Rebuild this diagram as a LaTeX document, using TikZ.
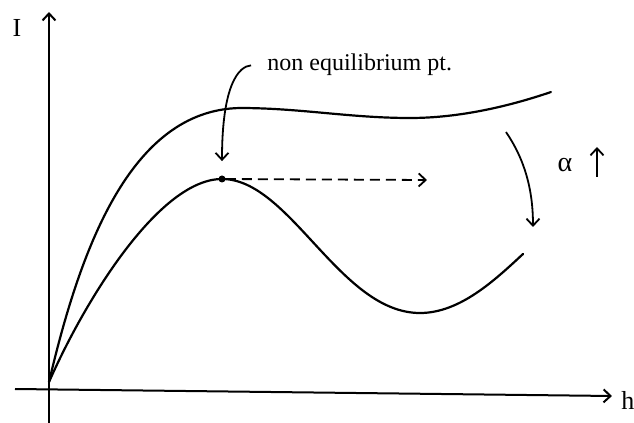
\documentclass[tikz,border=0pt]{standalone}
\usepackage{fontspec}
\setmainfont{Liberation Serif}
\usetikzlibrary{arrows.meta, positioning}

\begin{document}
\begin{tikzpicture}[
        x=0.5pt, y=-0.5pt,
        curve/.style={
            line width=1.1pt,
            line cap=round
        },
        axis/.style={
            line width=1pt,
            -{Straight Barb[length=3.5pt,width=6.5pt]}
        },
        arrow/.style={
            line width=0.9pt,
            -{Straight Barb[length=3.5pt,width=6.5pt]}
        },
        lbl/.style={
            inner sep=0pt,
            font=\fontsize{12}{14}\selectfont
        },
        peakdot/.style={
            circle,
            fill=black,
            inner sep=0pt,
            minimum size=3.5pt
        }
    ]
    \useasboundingbox (0,0) rectangle (634,423);

    % axes
    \coordinate (xstart) at (15,389);
    \coordinate (xend) at (612,396);
    \coordinate (ystart) at (49,423);
    \coordinate (yend) at (49,12);
    \draw[axis] (xstart) -- (xend);
    \draw[axis] (ystart) -- (yend);
    \node[lbl, font=\fontsize{13}{15}\selectfont] (ilabel) at (17,28) {I};
    \node[lbl, font=\fontsize{13}{15}\selectfont] (hlabel) at (628,400) {h};

    % the two curves
    \draw[curve] (49,382) .. controls (80,250) and (130,110) .. (240,108)
        .. controls (300,108) and (350,118) .. (410,118)
        .. controls (460,118) and (510,106) .. (551,92);
    \draw[curve] (49,382) .. controls (86,298) and (160,179) .. (222,179)
        .. controls (290,179) and (340,313) .. (420,313)
        .. controls (460,313) and (495,280) .. (523,254);

    % non equilibrium point
    \node[peakdot] (peak) at (222,179) {};
    \node[lbl, anchor=base west] (neq) at (267,70) {non equilibrium pt.};
    \coordinate (dashend) at (427,180);
    \draw[arrow, shorten <=8pt, shorten >=7pt] (neq.west) .. controls +(-28,2) and +(0,-95) .. (peak);
    \draw[arrow, dash pattern=on 5pt off 3pt] (peak) -- (dashend);

    % alpha increases
    \coordinate (bendstart) at (506,132);
    \coordinate (bendend) at (533,227);
    \draw[arrow] (bendstart) .. controls (525,160) and (533,190) .. (bendend);
    \node[lbl, font=\fontsize{14}{16}\selectfont] (alpha) at (565,165) {α};
    \coordinate (upstart) at (597,177);
    \coordinate (upend) at (597,147);
    \draw[arrow] (upstart) -- (upend);
\end{tikzpicture}
\end{document}
